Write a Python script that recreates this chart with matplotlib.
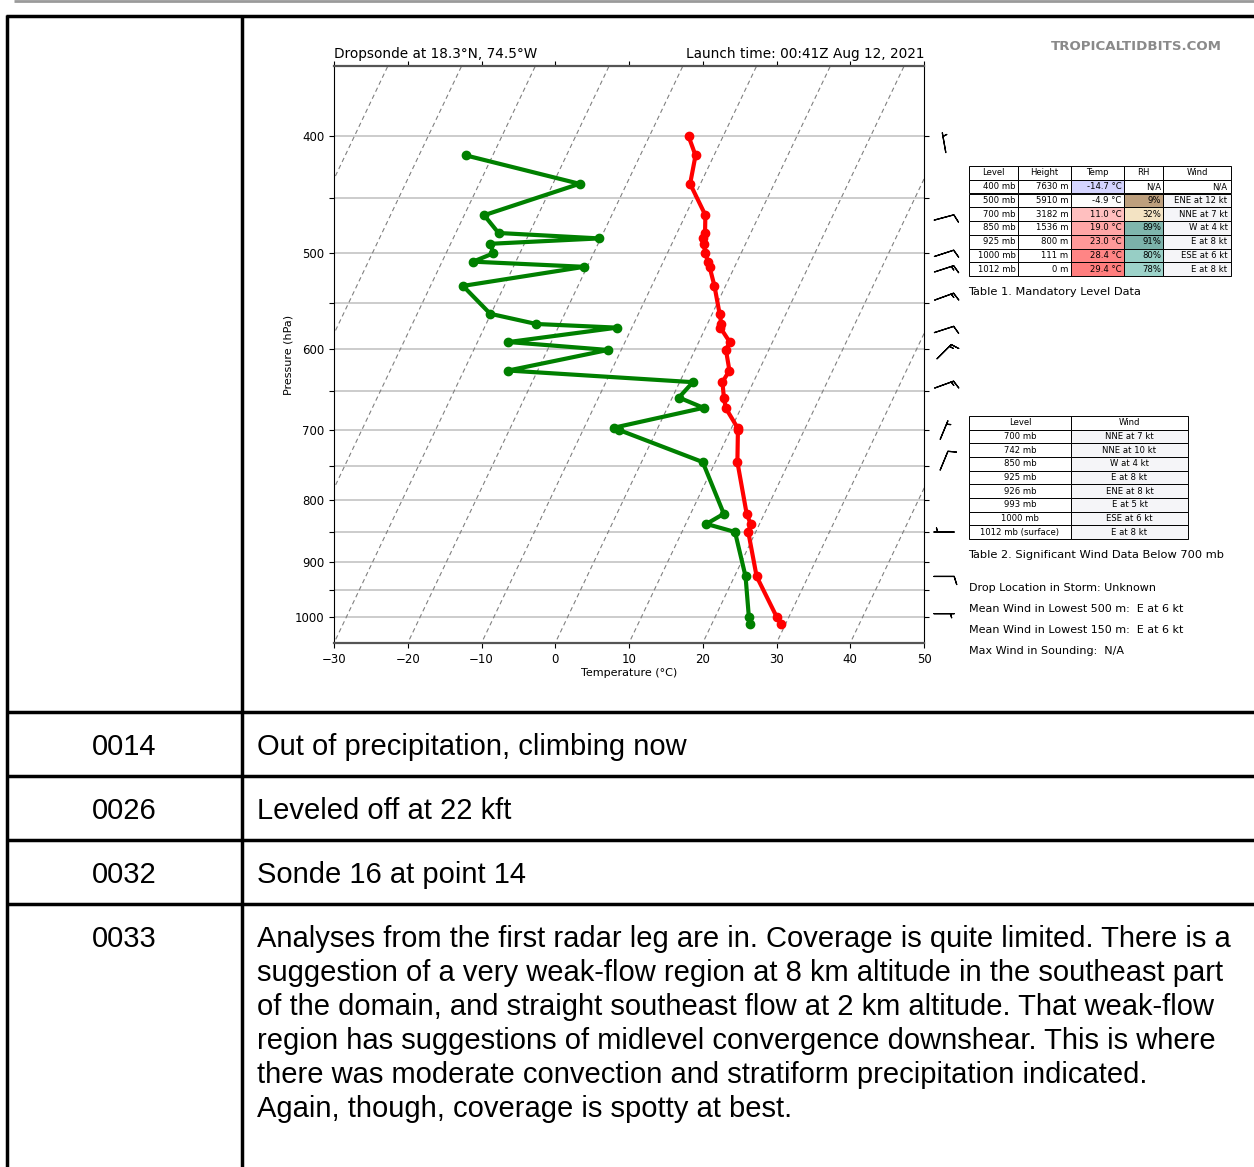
import numpy as np
import matplotlib
matplotlib.use("Agg")
import matplotlib.pyplot as plt
from matplotlib import transforms
from matplotlib.lines import Line2D

W, H = 1254, 1167

# sounding (hPa, degC)
pres = [400, 415, 438, 465, 481, 486, 491, 500, 508, 513, 532, 561, 572, 576, 592,
        601, 625, 639, 658, 671, 697, 700, 744, 821, 837, 850, 925, 1000, 1012]
temp = [-14.7, -12.5, -11.4, -7.3, -6.2, -6.1, -5.6, -4.9, -3.9, -3.4, -1.5, 1.0, 1.9, 2.0, 4.2,
        4.2, 6.0, 5.8, 7.0, 7.9, 10.8, 11.0, 13.0, 17.6, 18.8, 19.0, 23.0, 28.4, 29.4]
dewp = [np.nan, -43.6, -26.4, -37.3, -34.2, -20.2, -34.6, -33.6, -35.8, -20.4, -35.6, -30.1, -23.2, -12.0, -25.8,
        -11.8, -24.0, 1.8, 0.9, 4.9, -6.0, -5.1, 8.3, 14.5, 12.8, 17.2, 21.5, 24.6, 25.2]

# wind barbs (hPa, direction deg, kt)
barb_pres = [405, 467, 500, 515, 543, 578, 603, 642, 700, 742, 850, 925, 993]
barb_dir = [350, 75, 72, 72, 70, 72, 45, 70, 22.5, 22.5, 270, 90, 90]
barb_spd = [5, 10, 12, 15, 15, 10, 15, 15, 7, 10, 4, 8, 5]

isotherms = list(range(-100, 60, 10))
p_ticks = list(range(400, 1001, 50))
t_ticks = list(range(-30, 51, 10))

# table 1
t1_cols = ["Level", "Height", "Temp", "RH", "Wind"]
t1_rows = [["400 mb", "7630 m", "-14.7 °C", "N/A", "N/A"],
           ["500 mb", "5910 m", "-4.9 °C", "9%", "ENE at 12 kt"],
           ["700 mb", "3182 m", "11.0 °C", "32%", "NNE at 7 kt"],
           ["850 mb", "1536 m", "19.0 °C", "89%", "W at 4 kt"],
           ["925 mb", "800 m", "23.0 °C", "91%", "E at 8 kt"],
           ["1000 mb", "111 m", "28.4 °C", "80%", "ESE at 6 kt"],
           ["1012 mb", "0 m", "29.4 °C", "78%", "E at 8 kt"]]
t1_temp_col = ["#d4d4ff", "#fcfcfc", "#ffbfbf", "#ffa6a6", "#ff9999", "#ff8585", "#ff7e7e"]
t1_rh_col = ["#ffffff", "#bd9f7d", "#f3e3c3", "#7fb6ad", "#7bb1a9", "#97cec5", "#9dd3ca"]

# table 2
t2_cols = ["Level", "Wind"]
t2_rows = [["700 mb", "NNE at 7 kt"], ["742 mb", "NNE at 10 kt"], ["850 mb", "W at 4 kt"],
           ["925 mb", "E at 8 kt"], ["926 mb", "ENE at 8 kt"], ["993 mb", "E at 5 kt"],
           ["1000 mb", "ESE at 6 kt"], ["1012 mb (surface)", "E at 8 kt"]]

info_lines = ["Drop Location in Storm: Unknown",
              "Mean Wind in Lowest 500 m:  E at 6 kt",
              "Mean Wind in Lowest 150 m:  E at 6 kt",
              "Max Wind in Sounding:  N/A"]

# document table rows
times = ["0014", "0026", "0032", "0033"]
notes = [["Out of precipitation, climbing now"],
         ["Leveled off at 22 kft"],
         ["Sonde 16 at point 14"],
         ["Analyses from the first radar leg are in. Coverage is quite limited. There is a",
          "suggestion of a very weak-flow region at 8 km altitude in the southeast part",
          "of the domain, and straight southeast flow at 2 km altitude. That weak-flow",
          "region has suggestions of midlevel convergence downshear. This is where",
          "there was moderate convection and stratiform precipitation indicated.",
          "Again, though, coverage is spotty at best."]]
row_tops = [712, 776, 840, 904]


def fx(x):
    return x / W


def fy(y):
    return 1 - y / H


fig = plt.figure(figsize=(W / 100, H / 100), dpi=100)
fig.patch.set_facecolor("white")

# --- document table lines
def hline(y, x0, x1, lw=2.5, color="black"):
    fig.add_artist(Line2D([fx(x0), fx(x1)], [fy(y), fy(y)], transform=fig.transFigure,
                          color=color, lw=lw, solid_capstyle="butt"))


def vline(x, y0, y1, lw=2.5):
    fig.add_artist(Line2D([fx(x), fx(x)], [fy(y0), fy(y1)], transform=fig.transFigure,
                          color="black", lw=lw, solid_capstyle="butt"))


hline(1, 14, W, lw=2, color="#9a9a9a")
hline(16, 6, W)
for yt in row_tops:
    hline(yt, 6, W)
vline(7, 15, H)
vline(242, 15, H)

doc_font = ["Liberation Sans", "DejaVu Sans"]
for i, (tm, lines) in enumerate(zip(times, notes)):
    yc = row_tops[i] + 35
    fig.text(fx(124), fy(yc), tm, ha="center", va="center", fontsize=21, family=doc_font)
    for j, ln in enumerate(lines):
        fig.text(fx(257), fy(yc + j * 34), ln, ha="left", va="center", fontsize=21, family=doc_font)

# --- skew-T axes
ax = fig.add_axes([fx(334), fy(643), fx(924 - 334), (643 - 66) / H])
ax.set_yscale("log")
skew = transforms.Affine2D().skew_deg(25, 0)
trans = ax.transScale + ax.transLimits + skew + ax.transAxes

for t in isotherms:
    ax.plot([t, t], [1100, 300], transform=trans, color="gray", ls="--", lw=0.8, dashes=(4, 3))
for p in p_ticks:
    ax.axhline(p, color="#c8c8c8", lw=1.3, zorder=1)

ax.plot(temp, pres, transform=trans, color="red", lw=3, marker="o", ms=6, zorder=3)
ax.plot(dewp, pres, transform=trans, color="green", lw=3, marker="o", ms=6, zorder=3)

u = [-s * np.sin(np.radians(d)) for s, d in zip(barb_spd, barb_dir)]
v = [-s * np.cos(np.radians(d)) for s, d in zip(barb_spd, barb_dir)]
btrans = transforms.blended_transform_factory(ax.transAxes, ax.transData)
ax.barbs([1.034] * len(barb_pres), barb_pres, u, v, transform=btrans, clip_on=False,
         length=5.4, lw=0.9, color="black", pivot="middle")

ax.set_ylim(1050, 350)
ax.set_xlim(-30, 50)
ax.set_yticks(p_ticks)
ax.set_yticklabels([str(p) if p % 100 == 0 else "" for p in p_ticks])
ax.yaxis.set_minor_locator(matplotlib.ticker.NullLocator())
ax.set_xticks(t_ticks)
ax.tick_params(top=True, right=True, labelsize=8.5)
for side in ["top", "bottom"]:
    ax.spines[side].set_color("#555555")
    ax.spines[side].set_linewidth(1.6)
ax.set_xlabel("Temperature (°C)", fontsize=8, labelpad=2)
ax.set_ylabel("Pressure (hPa)", fontsize=8, labelpad=1)
ax.set_title("Dropsonde at 18.3°N, 74.5°W", loc="left", fontsize=9.8, pad=6)
ax.set_title("Launch time: 00:41Z Aug 12, 2021", loc="right", fontsize=9.8, pad=6)

fig.text(fx(1222), fy(47), "TROPICALTIDBITS.COM", ha="right", va="center",
         fontsize=9.6, fontweight="bold", color="#8a8a8a")

# --- table 1
tax1 = fig.add_axes([fx(969), fy(276), fx(1231 - 969), (276 - 166) / H])
tax1.axis("off")
tb1 = tax1.table(cellText=t1_rows, colLabels=t1_cols, bbox=[0, 0, 1, 1], cellLoc="right",
                 colWidths=[49, 53, 53, 39, 68])
tb1.auto_set_font_size(False)
tb1.set_fontsize(6.1)
for (r, c), cell in tb1.get_celld().items():
    cell.set_linewidth(0.7)
    cell.PAD = 0.05
    if r == 0:
        cell.get_text().set_ha("center")
        continue
    if c == 2:
        cell.set_facecolor(t1_temp_col[r - 1])
    if c == 3:
        cell.set_facecolor(t1_rh_col[r - 1])
    if c == 4 and r > 1:
        cell.set_facecolor("#f5f5f8")
fig.text(fx(968), fy(292), "Table 1. Mandatory Level Data", ha="left", va="center", fontsize=8.2)

# --- table 2
tax2 = fig.add_axes([fx(969), fy(539), fx(1188 - 969), (539 - 416) / H])
tax2.axis("off")
tb2 = tax2.table(cellText=t2_rows, colLabels=t2_cols, bbox=[0, 0, 1, 1], cellLoc="center",
                 colWidths=[102, 117])
tb2.auto_set_font_size(False)
tb2.set_fontsize(6.1)
for (r, c), cell in tb2.get_celld().items():
    cell.set_linewidth(0.7)
    if c == 1 and r > 0:
        cell.set_facecolor("#f5f5f8")
fig.text(fx(968), fy(555), "Table 2. Significant Wind Data Below 700 mb", ha="left", va="center", fontsize=8.2)

for i, ln in enumerate(info_lines):
    fig.text(fx(969), fy(588 + i * 21), ln, ha="left", va="center", fontsize=8)

fig.savefig("out.png", dpi=100, facecolor="white")
